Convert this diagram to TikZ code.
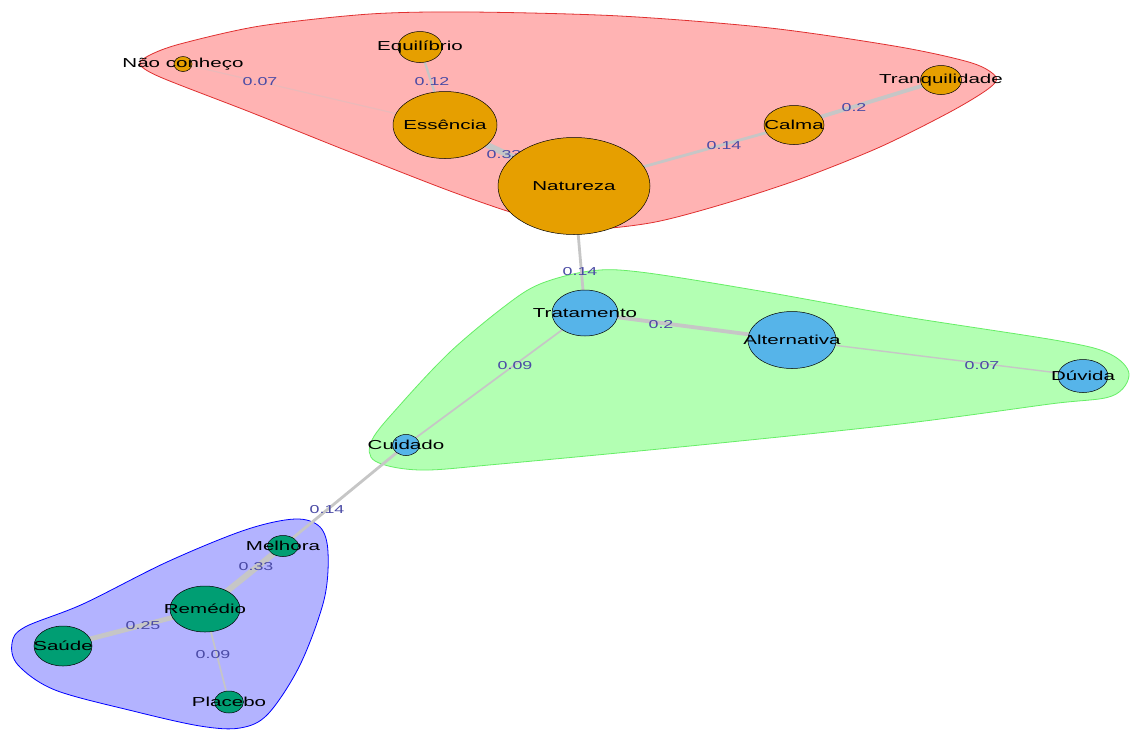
\documentclass[tikz,border=0pt]{standalone}
\usepackage{fontspec}
\setmainfont{Liberation Sans}
\usetikzlibrary{shapes.geometric}
\pgfdeclarelayer{paper}
\pgfdeclarelayer{hull}
\pgfdeclarelayer{edges}
\pgfsetlayers{paper,hull,edges,main}
\definecolor{vorange}{HTML}{E69F00}
\definecolor{vblue}{HTML}{56B4E9}
\definecolor{vgreen}{HTML}{009E73}
\definecolor{hred}{HTML}{FFB3B3}
\definecolor{hgreen}{HTML}{B3FFB3}
\definecolor{hblue}{HTML}{B3B3FF}
\definecolor{bred}{HTML}{E03030}
\definecolor{bgreen}{HTML}{66EE66}
\definecolor{bblue}{HTML}{0000FF}
\definecolor{edgegray}{HTML}{C6C6C6}
\definecolor{elab}{HTML}{4B4BA5}
\newcommand{\vwide}[1]{\scalebox{1.58}[1]{#1}}
\newcommand{\ewide}[1]{\scalebox{1.55}[1]{#1}}
\tikzset{
  vtx/.style={ellipse, draw=black, line width=0.5pt, inner sep=0pt},
  vtext/.style={font=\fontsize{13}{13}\selectfont, text=black, inner sep=0pt},
  elabel/.style={font=\fontsize{11.5}{11.5}\selectfont, text=elab, inner sep=0pt},
  wedge/.style={draw=edgegray, line width=#1},
  hullline/.style={line width=0.8pt}
}
\begin{document}
\begin{tikzpicture}[x=1pt,y=-1pt]
\useasboundingbox (0,0) rectangle (1130,729);
\begin{pgfonlayer}{paper}
\fill[white] (0,0) rectangle (1130,729);
\end{pgfonlayer}

% vertices
\node[vtx, fill=vorange, minimum width=18pt, minimum height=15pt,
  label={[vtext]center:\vwide{Não conheço}}] (nao) at (183,64) {};
\node[vtx, fill=vorange, minimum width=44pt, minimum height=31pt,
  label={[vtext]center:\vwide{Equilíbrio}}] (equ) at (420,47) {};
\node[vtx, fill=vorange, minimum width=104pt, minimum height=67pt,
  label={[vtext]center:\vwide{Essência}}] (ess) at (445,125) {};
\node[vtx, fill=vorange, minimum width=152pt, minimum height=97pt,
  label={[vtext]center:\vwide{Natureza}}] (nat) at (574,186) {};
\node[vtx, fill=vorange, minimum width=60pt, minimum height=39pt,
  label={[vtext]center:\vwide{Calma}}] (cal) at (794,125) {};
\node[vtx, fill=vorange, minimum width=41pt, minimum height=29pt,
  label={[vtext]center:\vwide{Tranquilidade}}] (tra) at (941,80) {};

\node[vtx, fill=vblue, minimum width=66pt, minimum height=46pt,
  label={[vtext]center:\vwide{Tratamento}}] (trat) at (585,313) {};
\node[vtx, fill=vblue, minimum width=88pt, minimum height=57pt,
  label={[vtext]center:\vwide{Alternativa}}] (alt) at (792,340) {};
\node[vtx, fill=vblue, minimum width=50pt, minimum height=33pt,
  label={[vtext]center:\vwide{Dúvida}}] (duv) at (1083,376) {};
\node[vtx, fill=vblue, minimum width=27pt, minimum height=21pt,
  label={[vtext]center:\vwide{Cuidado}}] (cui) at (406,445) {};

\node[vtx, fill=vgreen, minimum width=31pt, minimum height=21pt,
  label={[vtext]center:\vwide{Melhora}}] (mel) at (283,546) {};
\node[vtx, fill=vgreen, minimum width=70pt, minimum height=46pt,
  label={[vtext]center:\vwide{Remédio}}] (rem) at (205,609) {};
\node[vtx, fill=vgreen, minimum width=58pt, minimum height=40pt,
  label={[vtext]center:\vwide{Saúde}}] (sau) at (63,646) {};
\node[vtx, fill=vgreen, minimum width=29pt, minimum height=22pt,
  label={[vtext]center:\vwide{Placebo}}] (pla) at (229,702) {};

% hulls
\begin{pgfonlayer}{hull}
\draw[hullline, draw=bred, fill=hred] plot[smooth cycle, tension=0.5] coordinates {
  (140,64) (160,77) (250,112) (350,152) (450,191) (520,215) (580,229)
  (650,223) (720,205) (800,179) (880,147) (950,112) (988,89) (996,77)
  (972,63) (900,47) (770,28) (620,16) (470,12) (370,14) (260,26) (180,44) (150,55)};
\draw[hullline, draw=bgreen, fill=hgreen] plot[smooth cycle, tension=0.55] coordinates {
  (540,284) (590,271) (640,272) (760,291) (900,316) (1060,341) (1110,354)
  (1129,374) (1112,396) (1050,404) (900,424) (700,445) (500,464) (420,470)
  (375,461) (372,440) (400,405) (450,352) (505,306)};
\draw[hullline, draw=bblue, fill=hblue] plot[smooth cycle, tension=0.55] coordinates {
  (295,519) (320,527) (328,552) (324,600) (300,665) (268,714) (240,728)
  (200,726) (133,711) (55,690) (18,665) (12,643) (25,627) (83,604) (167,562) (245,530)};
\end{pgfonlayer}

% edges and their labels
\begin{pgfonlayer}{edges}
\draw[wedge=1.2pt, draw opacity=0.35] (nao.center) -- (ess.center);
\draw[wedge=2.3pt] (equ.center) -- (ess.center);
\draw[wedge=6pt] (ess.center) -- (nat.center);
\draw[wedge=2.8pt] (nat.center) -- (cal.center);
\draw[wedge=3.8pt] (cal.center) -- (tra.center);
\draw[wedge=2.8pt] (nat.center) -- (trat.center);
\draw[wedge=3.8pt] (trat.center) -- (alt.center);
\draw[wedge=1.4pt] (alt.center) -- (duv.center);
\draw[wedge=1.7pt] (trat.center) -- (cui.center);
\draw[wedge=2.8pt] (cui.center) -- (mel.center);
\draw[wedge=6pt] (mel.center) -- (rem.center);
\draw[wedge=4.8pt] (rem.center) -- (sau.center);
\draw[wedge=1.7pt] (rem.center) -- (pla.center);

\node[elabel] (l1) at (260,82) {\ewide{0.07}};
\node[elabel] (l2) at (432,82) {\ewide{0.12}};
\node[elabel] (l3) at (504,155) {\ewide{0.33}};
\node[elabel] (l4) at (724,146) {\ewide{0.14}};
\node[elabel] (l5) at (854,108) {\ewide{0.2}};
\node[elabel] (l6) at (580,272) {\ewide{0.14}};
\node[elabel] (l7) at (661,325) {\ewide{0.2}};
\node[elabel] (l8) at (515,366) {\ewide{0.09}};
\node[elabel] (l9) at (982,366) {\ewide{0.07}};
\node[elabel] (l10) at (327,510) {\ewide{0.14}};
\node[elabel] (l11) at (256,567) {\ewide{0.33}};
\node[elabel] (l12) at (143,626) {\ewide{0.25}};
\node[elabel] (l13) at (213,655) {\ewide{0.09}};
\end{pgfonlayer}
\end{tikzpicture}
\end{document}
